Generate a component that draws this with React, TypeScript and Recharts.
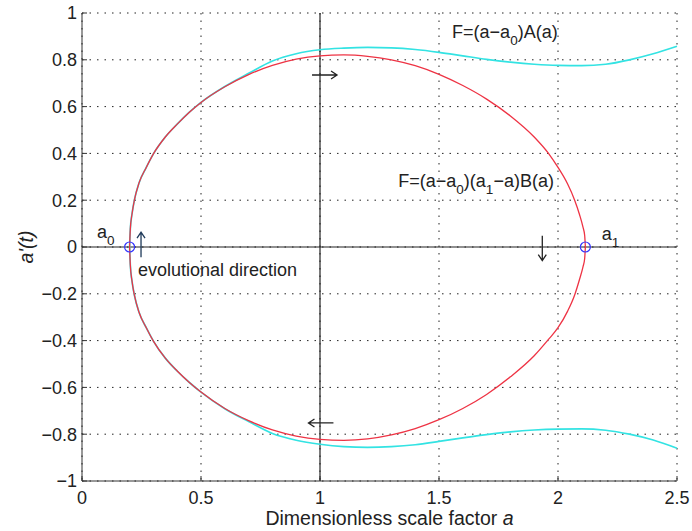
import React from 'react';
import { ComposedChart, Line, XAxis, YAxis, CartesianGrid, ReferenceLine, ReferenceDot } from 'recharts';

const xTicks = [0, 0.5, 1, 1.5, 2, 2.5];
const yTicks = [-1, -0.8, -0.6, -0.4, -0.2, 0, 0.2, 0.4, 0.6, 0.8, 1];

// F=(a-a0)(a1-a)B(a) : closed orbit (upper and lower halves)
const redUpperX = [0.2, 0.203, 0.21, 0.22, 0.24, 0.27, 0.3, 0.35, 0.4, 0.45, 0.5, 0.6, 0.7, 0.8, 0.9, 1.0, 1.1, 1.2, 1.3, 1.4, 1.5, 1.6, 1.7, 1.8, 1.9, 1.96, 2.0, 2.04, 2.07, 2.09, 2.105, 2.112, 2.115];
const redUpperY = [0, 0.077, 0.14, 0.2, 0.275, 0.34, 0.398, 0.47, 0.525, 0.575, 0.618, 0.685, 0.737, 0.776, 0.803, 0.817, 0.821, 0.815, 0.8, 0.775, 0.738, 0.69, 0.632, 0.56, 0.47, 0.4, 0.34, 0.27, 0.2, 0.14, 0.085, 0.05, 0];
const redLowerX = [0.2, 0.203, 0.21, 0.22, 0.24, 0.27, 0.3, 0.35, 0.4, 0.45, 0.5, 0.6, 0.7, 0.8, 0.9, 1.0, 1.1, 1.2, 1.3, 1.4, 1.5, 1.6, 1.7, 1.8, 1.9, 1.96, 2.0, 2.04, 2.07, 2.09, 2.105, 2.112, 2.115];
const redLowerY = [0, -0.077, -0.145, -0.205, -0.28, -0.345, -0.402, -0.475, -0.53, -0.578, -0.62, -0.69, -0.742, -0.782, -0.808, -0.822, -0.826, -0.82, -0.803, -0.776, -0.738, -0.69, -0.63, -0.555, -0.465, -0.395, -0.345, -0.275, -0.205, -0.14, -0.085, -0.05, 0];

// F=(a-a0)A(a) : open trajectory
const cyanUpperX = [0.2, 0.203, 0.21, 0.22, 0.24, 0.27, 0.3, 0.35, 0.4, 0.45, 0.5, 0.6, 0.7, 0.8, 0.9, 1.0, 1.1, 1.2, 1.3, 1.4, 1.5, 1.6, 1.7, 1.8, 1.9, 2.0, 2.1, 2.2, 2.3, 2.4, 2.5];
const cyanUpperY = [0, 0.077, 0.14, 0.2, 0.275, 0.34, 0.398, 0.47, 0.525, 0.575, 0.618, 0.686, 0.742, 0.795, 0.826, 0.843, 0.85, 0.853, 0.851, 0.844, 0.832, 0.817, 0.802, 0.79, 0.781, 0.776, 0.775, 0.781, 0.8, 0.826, 0.858];
const cyanLowerX = [0.2, 0.203, 0.21, 0.22, 0.24, 0.27, 0.3, 0.35, 0.4, 0.45, 0.5, 0.6, 0.7, 0.8, 0.9, 1.0, 1.1, 1.2, 1.3, 1.4, 1.5, 1.6, 1.7, 1.8, 1.9, 2.0, 2.1, 2.2, 2.3, 2.4, 2.5];
const cyanLowerY = [0, -0.077, -0.145, -0.205, -0.28, -0.345, -0.402, -0.475, -0.53, -0.578, -0.62, -0.691, -0.746, -0.797, -0.826, -0.843, -0.853, -0.856, -0.853, -0.845, -0.831, -0.816, -0.802, -0.79, -0.782, -0.778, -0.777, -0.783, -0.8, -0.825, -0.86];

const fixedPointsX = [0.2, 2.115];

const toPts = (xs: number[], ys: number[]) => xs.map((x, i) => ({ x, y: ys[i] }));
const redUpper = toPts(redUpperX, redUpperY);
const redLower = toPts(redLowerX, redLowerY);
const cyanUpper = toPts(cyanUpperX, cyanUpperY);
const cyanLower = toPts(cyanLowerX, cyanLowerY);

const FONT = '"Liberation Sans", Arial, sans-serif';
const TXT = '#222';
const FS = 18;
const SUB_FS = 13.5;
const SUB_DY = 7;

const fmt = (v: number) => (v < 0 ? '\u2212' + String(-v) : String(v));

const arrow = (dir: 'right' | 'left' | 'up' | 'down', color = '#222') => (props: any) => {
  const { cx, cy } = props;
  const L = 12.5;
  const h = 6;
  const w = 4;
  let d = '';
  if (dir === 'right') d = `M${cx - L},${cy}H${cx + L}M${cx + L - h},${cy - w}L${cx + L},${cy}L${cx + L - h},${cy + w}`;
  if (dir === 'left') d = `M${cx + L},${cy}H${cx - L}M${cx - L + h},${cy - w}L${cx - L},${cy}L${cx - L + h},${cy + w}`;
  if (dir === 'up') d = `M${cx},${cy + L}V${cy - L}M${cx - w},${cy - L + h}L${cx},${cy - L}L${cx + w},${cy - L + h}`;
  if (dir === 'down') d = `M${cx},${cy - L}V${cy + L}M${cx - w},${cy + L - h}L${cx},${cy + L}L${cx + w},${cy + L - h}`;
  return <path d={d} stroke={color} strokeWidth={1.3} fill="none" />;
};

// parts: [text, isSubscript]
const richText = (parts: [string, boolean][]) => (props: any) => {
  const { cx, cy } = props;
  let level = 0;
  return (
    <text x={cx} y={cy} fill={TXT} fontSize={FS} fontFamily={FONT}>
      {parts.map(([s, isSub], i) => {
        const target = isSub ? SUB_DY : 0;
        const dy = target - level;
        level = target;
        return (
          <tspan key={i} dy={dy} fontSize={isSub ? SUB_FS : FS}>
            {s}
          </tspan>
        );
      })}
    </text>
  );
};

export default function App() {
  return (
    <div style={{ position: 'absolute', left: 0, top: 0 }}>
      <ComposedChart width={692} height={531} margin={{ top: 13, right: 15, bottom: 0, left: 0 }}>
        <CartesianGrid stroke="#222" strokeDasharray="1.5 6" strokeWidth={1} />
        <XAxis
          dataKey="x"
          type="number"
          domain={[0, 2.5]}
          ticks={xTicks}
          interval={0}
          height={50}
          tickSize={-5}
          tickMargin={15}
          tickFormatter={fmt}
          stroke="#333"
          tick={{ fill: TXT, fontSize: FS, fontFamily: FONT }}
          label={(p: any) => {
            const vb = p.viewBox;
            return (
              <text x={vb.x + vb.width / 2 + 10} y={525} textAnchor="middle" fill={TXT} fontSize={19.5} fontFamily={FONT}>
                Dimensionless scale factor <tspan fontStyle="italic">a</tspan>
              </text>
            );
          }}
        />
        <YAxis
          dataKey="y"
          type="number"
          domain={[-1, 1]}
          ticks={yTicks}
          interval={0}
          width={82}
          tickSize={-5}
          tickMargin={10}
          tickFormatter={fmt}
          stroke="#333"
          tick={{ fill: TXT, fontSize: FS, fontFamily: FONT }}
          label={(p: any) => {
            const vb = p.viewBox;
            const cx = 26;
            const cy = vb.y + vb.height / 2;
            return (
              <text x={cx} y={cy} transform={`rotate(-90, ${cx}, ${cy})`} textAnchor="middle" dominantBaseline="central" fill={TXT} fontSize={19.5} fontFamily={FONT} fontStyle="italic">
                a'(t)
              </text>
            );
          }}
        />
        <ReferenceLine x={1} stroke="#222" strokeWidth={1.2} />
        <ReferenceLine y={0} stroke="#222" strokeWidth={1.2} />
        <Line data={cyanUpper} dataKey="y" type="monotone" dot={false} stroke="#33e3e3" strokeWidth={1.7} isAnimationActive={false} />
        <Line data={cyanLower} dataKey="y" type="monotone" dot={false} stroke="#33e3e3" strokeWidth={1.7} isAnimationActive={false} />
        <Line data={redUpper} dataKey="y" type="monotone" dot={false} stroke="#ee3344" strokeWidth={1.3} isAnimationActive={false} />
        <Line data={redLower} dataKey="y" type="monotone" dot={false} stroke="#ee3344" strokeWidth={1.3} isAnimationActive={false} />
        {fixedPointsX.map((x) => (
          <ReferenceDot key={x} x={x} y={0} r={5} fill="none" stroke="#3333ff" strokeWidth={1.2} />
        ))}
        <ReferenceDot x={1.019} y={0.735} r={0} shape={arrow('right')} />
        <ReferenceDot x={1.004} y={-0.752} r={0} shape={arrow('left')} />
        <ReferenceDot x={1.934} y={-0.005} r={0} shape={arrow('down')} />
        <ReferenceDot x={0.248} y={0.01} r={0} shape={arrow('up', '#1f3a5a')} />
        <ReferenceDot x={1.555} y={0.892} r={0} shape={richText([['F=(a\u2212a', false], ['0', true], [')A(a)', false]])} />
        <ReferenceDot
          x={1.329}
          y={0.255}
          r={0}
          shape={richText([['F=(a\u2212a', false], ['0', true], [')(a', false], ['1', true], ['\u2212a)B(a)', false]])}
        />
        <ReferenceDot x={0.063} y={0.038} r={0} shape={richText([['a', false], ['0', true]])} />
        <ReferenceDot x={2.184} y={0.03} r={0} shape={richText([['a', false], ['1', true]])} />
        <ReferenceDot x={0.235} y={-0.124} r={0} shape={richText([['evolutional direction', false]])} />
      </ComposedChart>
    </div>
  );
}
